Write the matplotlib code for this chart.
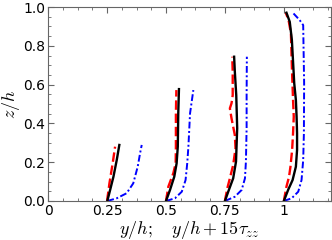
import numpy as np
import matplotlib
import matplotlib.pyplot as plt
from matplotlib.ticker import MultipleLocator, FixedLocator, FixedFormatter

matplotlib.use("Agg")
plt.rcParams['mathtext.fontset'] = 'cm'
plt.rcParams['font.size'] = 10

# station 1 (y/h = 0.25)
z1_k = [0.0, 0.057, 0.125, 0.211, 0.289]
x1_k = [0.251, 0.263, 0.277, 0.291, 0.302]
z1_r = [0.0, 0.091, 0.196, 0.280]
x1_r = [0.250, 0.260, 0.274, 0.284]
z1_b = [0.0, 0.014, 0.040, 0.091, 0.177, 0.246, 0.289]
x1_b = [0.251, 0.291, 0.333, 0.361, 0.380, 0.390, 0.397]

# station 2 (y/h = 0.5)
z2_k = [0.0, 0.057, 0.125, 0.194, 0.280, 0.452, 0.577]
x2_k = [0.500, 0.517, 0.535, 0.545, 0.550, 0.552, 0.555]
z2_r = [0.0, 0.074, 0.143, 0.194, 0.280, 0.452, 0.572]
x2_r = [0.500, 0.510, 0.531, 0.541, 0.542, 0.542, 0.544]
z2_b = [0.0, 0.014, 0.048, 0.108, 0.194, 0.280, 0.452, 0.572]
x2_b = [0.500, 0.538, 0.567, 0.583, 0.590, 0.595, 0.602, 0.616]

# station 3 (y/h = 0.75)
z3_k = [0.0, 0.048, 0.117, 0.203, 0.375, 0.546, 0.667, 0.744]
x3_k = [0.750, 0.764, 0.785, 0.797, 0.802, 0.798, 0.792, 0.789]
z3_r = [0.0, 0.065, 0.117, 0.186, 0.272, 0.340, 0.426, 0.478, 0.504, 0.546, 0.667, 0.744]
x3_r = [0.750, 0.760, 0.771, 0.785, 0.795, 0.792, 0.778, 0.771, 0.778, 0.783, 0.783, 0.781]
z3_b = [0.0, 0.022, 0.057, 0.117, 0.203, 0.375, 0.546, 0.744]
x3_b = [0.750, 0.792, 0.821, 0.835, 0.839, 0.842, 0.842, 0.843]

# station 4 (y/h = 1)
z4_k = [0.0, 0.057, 0.108, 0.177, 0.263, 0.349, 0.435, 0.521, 0.607, 0.830, 0.924, 0.971]
x4_k = [1.000, 1.018, 1.037, 1.051, 1.056, 1.056, 1.054, 1.051, 1.044, 1.034, 1.025, 1.011]
z4_r = [0.0, 0.074, 0.125, 0.177, 0.263, 0.349, 0.435, 0.521, 0.692, 0.864, 0.933, 0.971]
x4_r = [1.000, 1.011, 1.022, 1.028, 1.035, 1.039, 1.042, 1.039, 1.034, 1.030, 1.020, 1.008]
z4_b = [0.0, 0.014, 0.048, 0.108, 0.211, 0.349, 0.607, 0.830, 0.907, 0.933, 0.967]
x4_b = [1.000, 1.033, 1.061, 1.075, 1.082, 1.085, 1.086, 1.083, 1.082, 1.067, 1.041]

xticks = [0, 0.25, 0.5, 0.75, 1]
xticklabels = ["0", "0.25", "0.5", "0.75", "1"]

fig = plt.figure(figsize=(3.32, 2.4), dpi=100)
ax = fig.add_axes([0.145, 0.1625, 0.852, 0.808])

for xk, zk, xr, zr, xb, zb in [(x1_k, z1_k, x1_r, z1_r, x1_b, z1_b),
                               (x2_k, z2_k, x2_r, z2_r, x2_b, z2_b),
                               (x3_k, z3_k, x3_r, z3_r, x3_b, z3_b),
                               (x4_k, z4_k, x4_r, z4_r, x4_b, z4_b)]:
    ax.plot(xk, zk, color="black", lw=1.7, zorder=3)
    ax.plot(xr, zr, color="red", lw=1.7, ls=(0, (4, 1.6)), zorder=2)
    ax.plot(xb, zb, color="blue", lw=1.4, ls=(0, (3.5, 1.3, 1, 1.3)), zorder=1)

ax.set_xlim(0, 1.2)
ax.set_ylim(0, 1.0)
ax.xaxis.set_major_locator(FixedLocator(xticks))
ax.xaxis.set_major_formatter(FixedFormatter(xticklabels))
ax.xaxis.set_minor_locator(MultipleLocator(0.0625))
ax.yaxis.set_major_locator(MultipleLocator(0.2))
ax.yaxis.set_minor_locator(MultipleLocator(0.05))
ax.tick_params(which="both", direction="in", top=True, right=True, colors="#666666",
               labelcolor="black", labelsize=10, pad=2)
ax.tick_params(which="major", length=4)
ax.tick_params(which="minor", length=2)
for s in ax.spines.values():
    s.set_color("#666666")

ax.set_xlabel(r"$y/h;\quad y/h+15\tau_{zz}$", fontsize=13, labelpad=1)
ax.set_ylabel(r"$z/h$", fontsize=13, labelpad=1)

fig.savefig("out.png")
